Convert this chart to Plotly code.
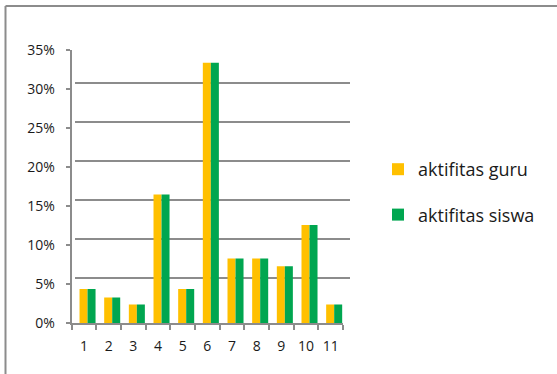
import plotly.graph_objects as go

categories = ["1", "2", "3", "4", "5", "6", "7", "8", "9", "10", "11"]
guru = [4.4, 3.3, 2.4, 16.5, 4.4, 33.4, 8.3, 8.3, 7.3, 12.6, 2.4]
siswa = [4.4, 3.3, 2.4, 16.5, 4.4, 33.4, 8.3, 8.3, 7.3, 12.6, 2.4]
y_ticks = [0, 5, 10, 15, 20, 25, 30, 35]
y_labels = [f"{v}%" for v in y_ticks]

W, H = 557, 374
def px(x):
    return x / W
def py(y):
    return 1 - y / H

GRID = "#8c8c8c"
FONT = "Open Sans"
TXT = "#1a1a1a"

fig = go.Figure()

# back wall (gridlines)
fig.add_trace(go.Scatter(x=[None], y=[None], xaxis="x", yaxis="y",
                         showlegend=False, hoverinfo="skip"))

# bars (slightly shifted to mimic 3D depth)
fig.add_trace(go.Bar(x=categories, y=guru, name="aktifitas guru",
                     marker=dict(color="#FFC000", line=dict(width=0)),
                     xaxis="x2", yaxis="y2", legendgroup="g1"))
fig.add_trace(go.Bar(x=categories, y=siswa, name="aktifitas siswa",
                     marker=dict(color="#00A650", line=dict(width=0)),
                     xaxis="x2", yaxis="y2", legendgroup="g2"))

# front category axis
fig.add_trace(go.Scatter(x=[categories[0]], y=[None], xaxis="x3", yaxis="y2",
                         showlegend=False, hoverinfo="skip", mode="markers"))

shift = 3.5 / ((343 - 71.7) / 11)

fig.update_layout(
    template="none",
    width=W, height=H, autosize=False,
    margin=dict(l=0, r=0, t=0, b=0, pad=0, autoexpand=False),
    paper_bgcolor="white", plot_bgcolor="rgba(0,0,0,0)",
    barmode="group", bargap=0.35, bargroupgap=0,
    font=dict(family=FONT, size=14, color=TXT),
    xaxis=dict(domain=[px(75), px(350)], anchor="y", range=[0, 1],
               showgrid=False, zeroline=False, showticklabels=False,
               showline=False, ticks="", automargin=False),
    yaxis=dict(domain=[py(317.7), py(44)], anchor="x", range=[-0.06, 35.06],
               tickvals=y_ticks, showgrid=True, gridcolor=GRID, gridwidth=2,
               zeroline=False, showticklabels=False, showline=False, ticks="",
               automargin=False),
    xaxis2=dict(domain=[px(71.7), px(343)], anchor="y2", type="category",
                categoryorder="array", categoryarray=categories,
                range=[-0.5 - shift, 10.5 - shift],
                showticklabels=False, ticks="", showline=False,
                showgrid=False, zeroline=False, automargin=False),
    yaxis2=dict(domain=[py(323.3), py(323.3 - 35 * 7.8)], anchor="x2",
                range=[0, 35], tickvals=y_ticks, ticktext=y_labels,
                ticks="outside", ticklen=4, tickcolor=GRID, tickwidth=2,
                showline=True, linecolor=GRID, linewidth=2,
                showgrid=False, zeroline=False, ticklabelstandoff=8,
                automargin=False,
                tickfont=dict(family=FONT, size=14, color=TXT)),
    xaxis3=dict(overlaying="x2", anchor="y2", type="category",
                categoryorder="array", categoryarray=categories,
                range=[-0.5, 10.5], tickangle=0,
                tickson="boundaries", ticks="outside", ticklen=5,
                tickcolor=GRID, tickwidth=2,
                showline=True, linecolor=GRID, linewidth=2,
                showgrid=False, zeroline=False, automargin=False,
                ticklabelstandoff=9,
                tickfont=dict(family=FONT, size=14, color=TXT)),
    legend=dict(x=px(378), y=py(151), xanchor="left", yanchor="top",
                traceorder="grouped", tracegroupgap=19,
                font=dict(family=FONT, size=18, color=TXT),
                bgcolor="rgba(0,0,0,0)", borderwidth=0),
    showlegend=True,
    shapes=[
        dict(type="line", xref="paper", yref="paper",
             x0=px(5.5), x1=px(5.5), y0=-0.05, y1=py(6),
             line=dict(color=GRID, width=2)),
        dict(type="line", xref="paper", yref="paper",
             x0=px(5.5), x1=1.05, y0=py(6), y1=py(6),
             line=dict(color=GRID, width=2)),
    ],
)

fig.write_html("out.html")
